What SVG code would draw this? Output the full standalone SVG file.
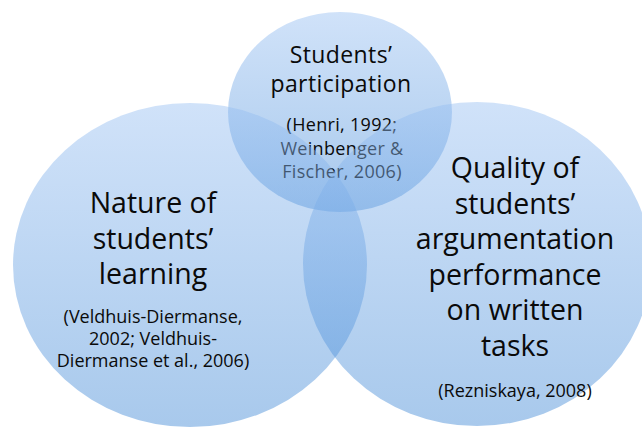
<svg xmlns="http://www.w3.org/2000/svg" width="642" height="427" viewBox="0 0 642 427">
<defs>
<linearGradient id="g" x1="0" y1="0" x2="0" y2="1">
<stop offset="0" stop-color="#97bff2"/>
<stop offset="1" stop-color="#3e87d5"/>
</linearGradient>
<style>
.c{fill:url(#g);fill-opacity:0.45;}
text{font-family:"Open Sans","Liberation Sans",sans-serif;fill:#0a0a0a;text-anchor:middle;}
.t{font-size:28.5px;}
.s{font-size:23px;letter-spacing:0.4px;}
.r{font-size:18px;}
.q{font-size:18px;letter-spacing:0.3px;}
</style>
</defs>
<rect width="642" height="427" fill="#ffffff"/>
<g id="participation">
<ellipse class="c" cx="340" cy="112" rx="112" ry="100"/>
<text class="s" x="341" y="63">Students’</text>
<text class="s" x="341" y="92">participation</text>
<text class="q" x="342" y="131">(Henri, 1992;</text>
<text class="q" x="342" y="154.5">Weinbenger &amp;</text>
<text class="q" x="342" y="178">Fischer, 2006)</text>
</g>
<g id="learning">
<ellipse class="c" cx="190" cy="265" rx="177" ry="162"/>
<text class="t" x="153" y="213">Nature of</text>
<text class="t" x="153" y="248.5">students’</text>
<text class="t" x="153" y="284">learning</text>
<text class="r" x="153" y="323">(Veldhuis-Diermanse,</text>
<text class="r" x="153" y="345">2002; Veldhuis-</text>
<text class="r" x="153" y="367">Diermanse et al., 2006)</text>
</g>
<g id="argumentation">
<ellipse class="c" cx="477" cy="264" rx="174" ry="162"/>
<text class="t" x="515" y="178">Quality of</text>
<text class="t" x="515" y="213.5">students’</text>
<text class="t" x="515" y="249">argumentation</text>
<text class="t" x="515" y="285">performance</text>
<text class="t" x="515" y="320">on written</text>
<text class="t" x="515" y="356">tasks</text>
<text class="r" x="515" y="397">(Rezniskaya, 2008)</text>
</g>
<g id="connectors"/>
</svg>
